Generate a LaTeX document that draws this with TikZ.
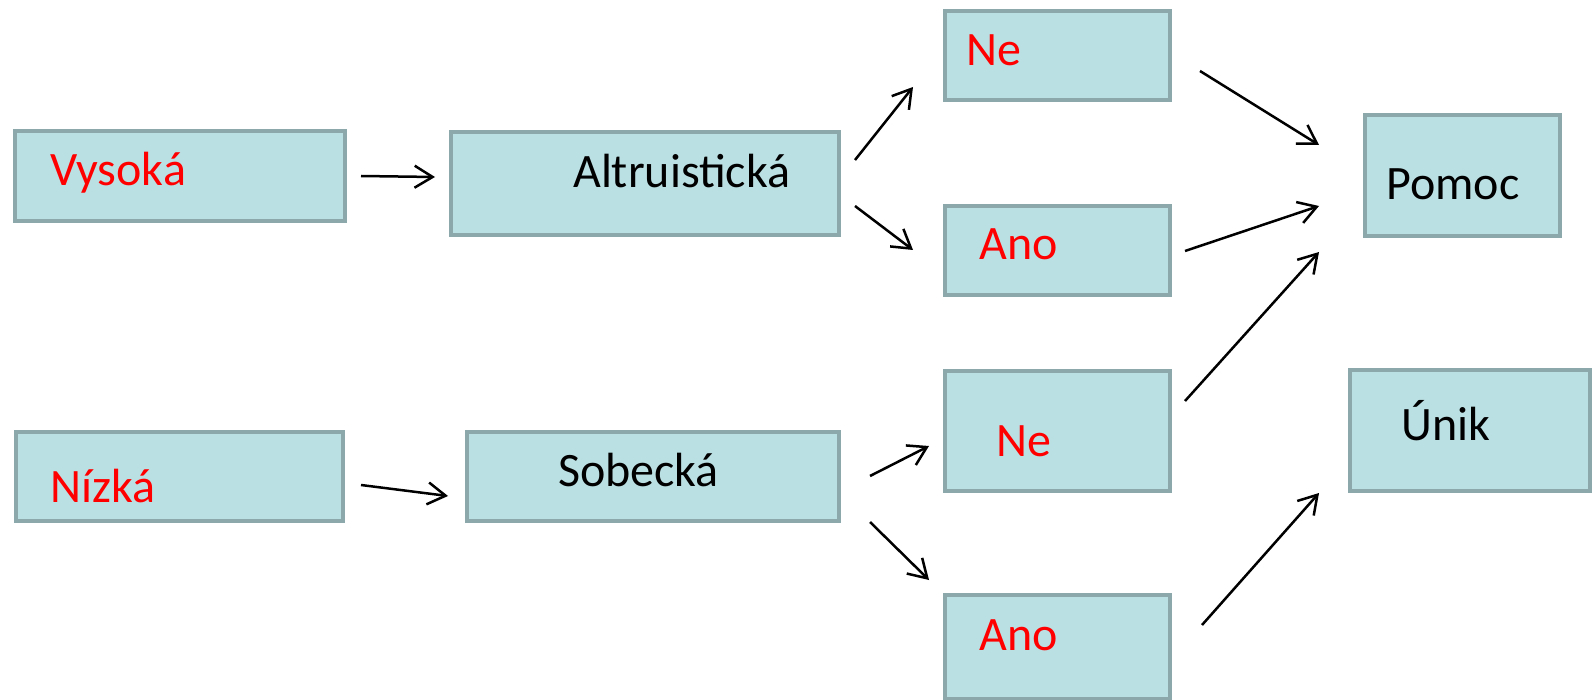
\documentclass[tikz,border=0pt]{standalone}
\usepackage{fontspec}
\setmainfont{Carlito}
\usetikzlibrary{arrows.meta}
\definecolor{boxfill}{HTML}{BBE0E3}
\definecolor{boxline}{HTML}{8CA8AA}
\begin{document}
\begin{tikzpicture}[x=1pt,y=-1pt,
  box/.style={draw=boxline,fill=boxfill,line width=4pt,rectangle,inner sep=0pt,
    minimum width=#1},
  txt/.style={anchor=base west,inner sep=0pt,font=\fontsize{48}{57}\selectfont},
  red/.style={text={rgb,255:red,255;green,0;blue,0}},
  arr/.style={-{Straight Barb[length=18pt,width=22pt,line width=2.5pt]},line width=2.5pt,black}]
\useasboundingbox (0,0) rectangle (1594,700);
% boxes
\node[box=330pt,minimum height=90pt] (vys) at (180,176) {};
\node[box=388pt,minimum height=103pt] (alt) at (645,183.5) {};
\node[box=225pt,minimum height=89pt] (ne1) at (1057.5,55.5) {};
\node[box=225pt,minimum height=89pt] (ano1) at (1057.5,250.5) {};
\node[box=195pt,minimum height=121pt] (pom) at (1462.5,175.5) {};
\node[box=240pt,minimum height=121pt] (unik) at (1470,430.5) {};
\node[box=225pt,minimum height=120pt] (ne2) at (1057.5,431) {};
\node[box=225pt,minimum height=104pt] (ano2) at (1057.5,647) {};
\node[box=327pt,minimum height=89pt] (niz) at (179.5,476.5) {};
\node[box=372pt,minimum height=89pt] (sob) at (653,476.5) {};
% texts
\node[txt,red] (vysT) at (50,186) {Vysoká};
\node[txt] (altT) at (573,188) {Altruistická};
\node[txt,red] (ne1T) at (966,66) {Ne};
\node[txt,red] (ano1T) at (979,260) {Ano};
\node[txt] (pomT) at (1386,200) {Pomoc};
\node[txt] (unikT) at (1401,440) {Únik};
\node[txt,red] (ne2T) at (996,456) {Ne};
\node[txt,red] (ano2T) at (979,650) {Ano};
\node[txt,red] (nizT) at (50,502) {Nízká};
\node[txt] (sobT) at (558,486) {Sobecká};
% connector ends
\coordinate (c1a) at (361,176); \coordinate (c1b) at (435,177);
\coordinate (c2a) at (855,160); \coordinate (c2b) at (913,87);
\coordinate (c3a) at (855,206); \coordinate (c3b) at (913,250);
\coordinate (c4a) at (1200,71); \coordinate (c4b) at (1319,145);
\coordinate (c5a) at (1185,251); \coordinate (c5b) at (1319,206);
\coordinate (c6a) at (1185,401); \coordinate (c6b) at (1319,252);
\coordinate (c7a) at (1202,625); \coordinate (c7b) at (1319,493);
\coordinate (c8a) at (870,476); \coordinate (c8b) at (929,446);
\coordinate (c9a) at (870,522); \coordinate (c9b) at (929,580);
\coordinate (c10a) at (361,485); \coordinate (c10b) at (448,496);
\draw[arr] (c1a) -- (c1b);
\draw[arr] (c2a) -- (c2b);
\draw[arr] (c3a) -- (c3b);
\draw[arr] (c4a) -- (c4b);
\draw[arr] (c5a) -- (c5b);
\draw[arr] (c6a) -- (c6b);
\draw[arr] (c7a) -- (c7b);
\draw[arr] (c8a) -- (c8b);
\draw[arr] (c9a) -- (c9b);
\draw[arr] (c10a) -- (c10b);
\end{tikzpicture}
\end{document}
